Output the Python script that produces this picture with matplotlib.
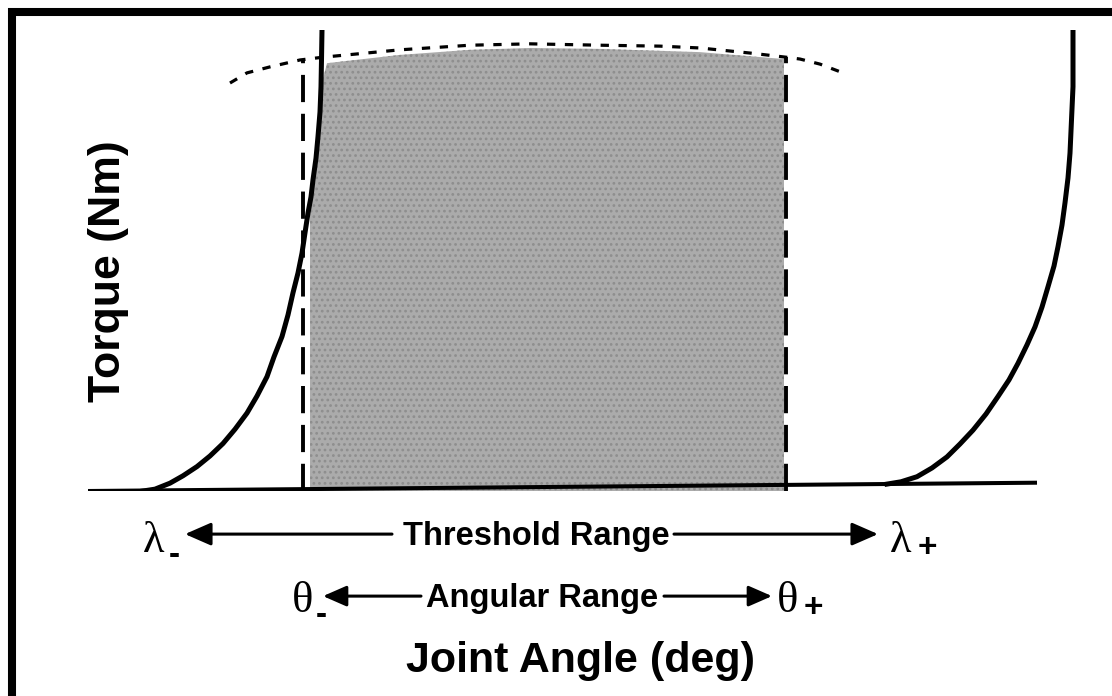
import matplotlib
matplotlib.use("Agg")
import matplotlib.pyplot as plt
from matplotlib.lines import Line2D

# ---------------------------------------------------------------
# torque-angle schematic data (angle / torque in arbitrary units)
# ---------------------------------------------------------------

# flexor side curve (starts at lambda-)
left_angle = [5.5, 6.7, 8.2, 9.5, 10.9, 12.2, 13.5, 14.7, 15.9, 16.9, 17.9, 18.6, 19.4,
              20.0, 20.5, 21.0, 21.4, 21.7, 22.0, 22.3, 22.5, 22.8, 23.0, 23.2, 23.3,
              23.35, 23.4]
left_torque = [0.0, 0.4, 1.7, 3.3, 5.3, 7.6, 10.3, 13.4, 16.9, 20.6, 24.8, 29.1, 33.5,
               38.2, 43.0, 47.3, 51.6, 56.0, 60.3, 63.8, 67.5, 72.2, 76.9, 82.2, 87.7,
               93.5, 100.0]

# extensor side curve (starts at lambda+)
right_angle = [79.9, 81.3, 82.9, 84.4, 85.9, 87.2, 88.5, 89.8, 91.0, 92.1, 93.0, 93.9,
               94.7, 95.4, 96.0, 96.6, 97.0, 97.4, 97.7, 98.0, 98.2, 98.35, 98.5, 98.5]
right_torque = [1.5, 2.0, 3.1, 5.0, 7.4, 10.2, 13.2, 16.7, 20.5, 24.1, 27.7, 31.7,
                35.6, 39.9, 44.3, 48.8, 53.0, 57.7, 62.5, 67.9, 73.3, 80.5, 87.7, 100.0]

# zero-torque baseline
base_angle = [0.0, 94.9]
base_torque = [0.0, 1.8]

# envelope of maximal torque (dotted)
env_angle = [14.2, 15.9, 18.2, 21.2, 23.5, 31.2, 38.2, 44.2, 51.2, 57.2, 61.2, 66.2, 69.8, 71.2, 73.2, 75.5]
env_torque = [88.5, 90.7, 92.0, 93.5, 94.1, 95.7, 96.7, 97.0, 96.7, 96.5, 96.1, 95.0, 94.1, 93.7, 92.6, 90.7]

# shaded working region outline
shade_angle = [22.2, 22.2, 22.5, 23.0, 23.3, 23.9, 31.2, 38.2, 44.2, 51.2, 61.2, 69.6, 69.6]
shade_torque = [0.0, 60.0, 67.5, 76.9, 87.7, 92.8, 94.6, 95.7, 96.1, 95.9, 95.2, 93.7, 0.0]

# angular range limits (dashed)
theta_minus = 21.5
theta_plus = 69.8
theta_top = [93.5, 94.1]

# arrow rows: (start, tip) pairs
threshold_row = -9.35
threshold_left = (30.4, 9.7)
threshold_right = (58.6, 79.0)
angular_row = -22.8
angular_left = (33.3, 23.5)
angular_right = (57.6, 68.4)

# =====================================================
# FIGURE
# =====================================================

plt.rcParams["hatch.linewidth"] = 1.2

fig = plt.figure(figsize=(11.12, 6.96), dpi=100)
fig.patch.set_facecolor("white")
ax = fig.add_axes([88 / 1112, 205 / 696, 1000 / 1112, 461 / 696])
ax.set_xlim(0, 100)
ax.set_ylim(0, 100)
ax.axis("off")

# shaded region, flat grey plus a dotted screen on top
ax.fill(shade_angle, shade_torque, facecolor="#ababab", edgecolor="none", zorder=1)
ax.fill(shade_angle, shade_torque, facecolor="none", edgecolor="#8e8e8e", lw=0,
        hatch="...", zorder=1.5)

# dashed limits
ax.plot([theta_minus, theta_minus], [0, theta_top[0]], color="black", lw=2.8,
        linestyle=(0, (7, 3)), zorder=3)
ax.plot([theta_plus, theta_plus], [0, theta_top[1]], color="black", lw=2.8,
        linestyle=(0, (7, 3)), zorder=3)

# dotted envelope
ax.plot(env_angle, env_torque, color="black", lw=2.3, linestyle=(0, (2.6, 3)),
        zorder=3, clip_on=False)

# baseline and curves
ax.plot(base_angle, base_torque, color="black", lw=2.9, solid_capstyle="butt", zorder=4)
ax.plot(left_angle, left_torque, color="black", lw=3.6, solid_joinstyle="round", zorder=4)
ax.plot(right_angle, right_torque, color="black", lw=3.6, solid_joinstyle="round", zorder=4)

# range arrows
def range_arrow(pair, row, scale):
    ax.annotate("", xy=(pair[1], row), xytext=(pair[0], row), annotation_clip=False,
                arrowprops=dict(arrowstyle="-|>,head_length=0.8,head_width=0.35",
                                lw=2.2, color="black", shrinkA=0, shrinkB=0,
                                mutation_scale=scale))

range_arrow(threshold_left, threshold_row, 20)
range_arrow(threshold_right, threshold_row, 20)
range_arrow(angular_left, angular_row, 18)
range_arrow(angular_right, angular_row, 18)

bold = dict(family="Liberation Sans", fontweight="bold", color="black")
ax.text(44.8, -11.7, "Threshold Range", fontsize=23.5, ha="center", va="baseline",
        clip_on=False, **bold)
ax.text(45.45, -25.1, "Angular Range", fontsize=23.5, ha="center", va="baseline",
        clip_on=False, **bold)
ax.text(49.2, -39.2, "Joint Angle (deg)", fontsize=31, ha="center", va="baseline",
        clip_on=False, **bold)
ax.text(2.05, 47.6, "Torque (Nm)", fontsize=32, rotation=90, ha="center", va="center",
        clip_on=False, **bold)

# greek symbols with subscripts
def symbol(x, y, glyph, sub, sx, sy):
    ax.text(x, y, glyph, fontsize=32, family="Liberation Serif", ha="center",
            va="center", clip_on=False)
    ax.text(sx, sy, sub, fontsize=24, ha="center", va="center", clip_on=False, **bold)

symbol(6.6, -10.9, "λ", "-", 8.6, -14.0)
symbol(81.3, -10.9, "λ", "+", 83.9, -12.4)
symbol(21.5, -23.9, "θ", "-", 23.3, -27.0)
symbol(70.0, -23.9, "θ", "+", 72.5, -25.4)

# page frame (top and left edges)
fig.add_artist(Line2D([12 / 1112, 12 / 1112], [0, 1 - 8 / 696], transform=fig.transFigure,
                      color="black", lw=5.8, solid_capstyle="butt"))
fig.add_artist(Line2D([8 / 1112, 1], [1 - 12 / 696, 1 - 12 / 696], transform=fig.transFigure,
                      color="black", lw=5.8, solid_capstyle="butt"))

plt.savefig("out.png", dpi=100)
plt.close()
